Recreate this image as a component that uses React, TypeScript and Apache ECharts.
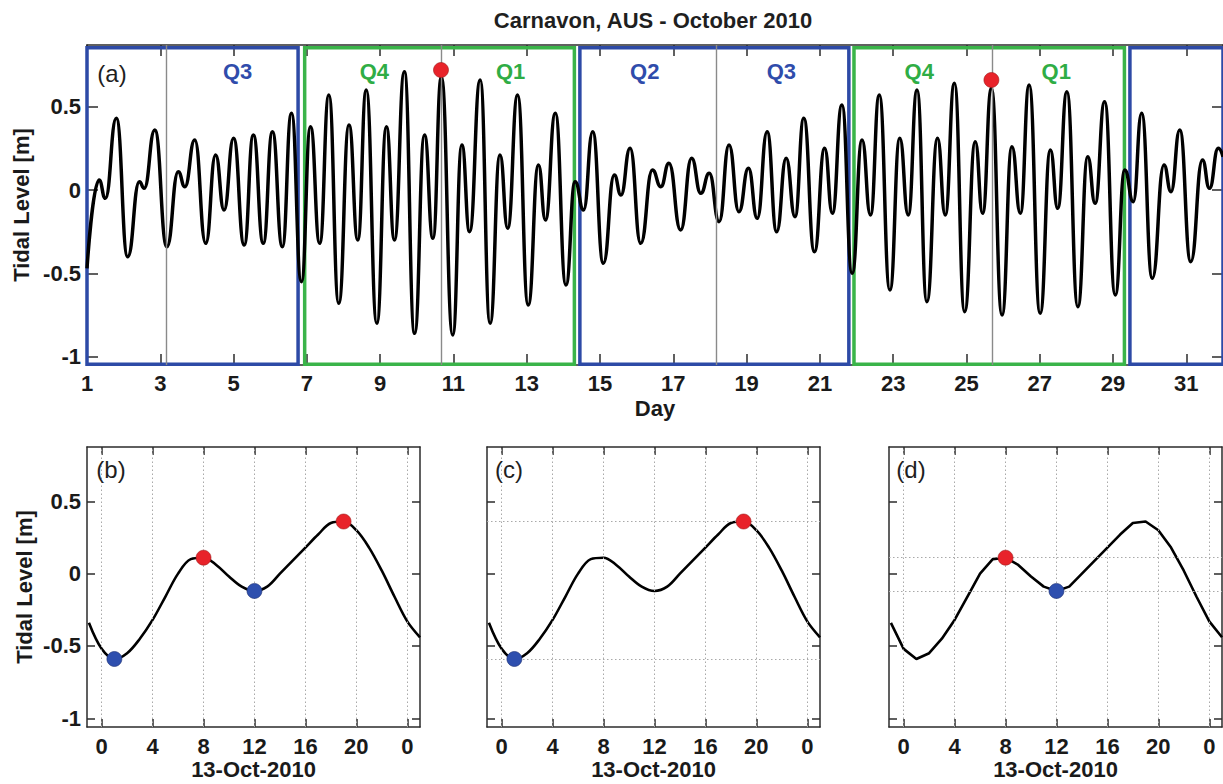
import React, { useEffect, useRef } from "react";
import * as echarts from "echarts";

// ---------------- Data ----------------
// Panel (a): tidal extrema (day of October 2010, metres)
const tideDays = [
  1.0, 1.33, 1.5, 1.8, 2.11, 2.43, 2.56, 2.85, 3.18, 3.49, 3.67, 3.94, 4.24, 4.51, 4.74, 5.0,
  5.29, 5.54, 5.81, 6.06, 6.33, 6.58, 6.85, 7.1, 7.35, 7.6, 7.87, 8.15, 8.39, 8.62, 8.91, 9.17,
  9.39, 9.66, 9.94, 10.21, 10.44, 10.67, 10.98, 11.23, 11.44, 11.73, 12.0, 12.27, 12.48, 12.75,
  13.04, 13.32, 13.51, 13.78, 14.07, 14.32, 14.55, 14.8, 15.09, 15.39, 15.57, 15.82, 16.11,
  16.43, 16.66, 16.88, 17.2, 17.5, 17.75, 17.98, 18.25, 18.52, 18.79, 19.05, 19.29, 19.56,
  19.82, 20.08, 20.32, 20.56, 20.85, 21.13, 21.34, 21.6, 21.88, 22.15, 22.38, 22.62, 22.91,
  23.18, 23.41, 23.65, 23.92, 24.21, 24.42, 24.67, 24.95, 25.24, 25.44, 25.68, 25.97, 26.24,
  26.47, 26.71, 27.01, 27.29, 27.49, 27.74, 28.04, 28.31, 28.51, 28.77, 29.06, 29.32, 29.55,
  29.78, 30.07, 30.39, 30.58, 30.82, 31.12, 31.44, 31.63, 31.87, 32.0,
];
const tideLevels = [
  -0.47, 0.06, -0.05, 0.43, -0.4, 0.05, 0.01, 0.36, -0.34, 0.11, 0.02, 0.3, -0.32, 0.21, -0.12, 0.31,
  -0.33, 0.33, -0.32, 0.35, -0.34, 0.46, -0.55, 0.38, -0.32, 0.57, -0.68, 0.39, -0.3, 0.6, -0.8, 0.38,
  -0.3, 0.71, -0.86, 0.33, -0.29, 0.68, -0.87, 0.27, -0.25, 0.66, -0.8, 0.21, -0.23, 0.57,
  -0.69, 0.15, -0.18, 0.46, -0.57, 0.05, -0.12, 0.35, -0.44, 0.09, -0.03, 0.25, -0.32,
  0.12, 0.02, 0.16, -0.24, 0.19, -0.02, 0.1, -0.19, 0.27, -0.13, 0.13, -0.17, 0.35,
  -0.25, 0.19, -0.16, 0.43, -0.37, 0.25, -0.14, 0.51, -0.5, 0.3, -0.15, 0.57, -0.6,
  0.31, -0.15, 0.6, -0.67, 0.31, -0.15, 0.64, -0.73, 0.29, -0.14, 0.61, -0.75, 0.26,
  -0.14, 0.63, -0.74, 0.24, -0.11, 0.59, -0.7, 0.2, -0.08, 0.53, -0.63, 0.12, -0.07,
  0.46, -0.53, 0.15, -0.01, 0.36, -0.43, 0.18, 0.01, 0.25, 0.2,
];

const dayTicks = [1, 3, 5, 7, 9, 11, 13, 15, 17, 19, 21, 23, 25, 27, 29, 31];
const levelTicks = [-1, -0.5, 0, 0.5];

const boxStartDays = [1.0, 6.94, 14.45, 21.93, 29.46];
const boxEndDays = [6.76, 14.3, 21.79, 29.31, 32.0];
const boxKinds = ["blue", "green", "blue", "green", "blue"];

const phaseDays = [3.16, 10.66, 18.18, 25.69];

const quarterNames = ["Q3", "Q4", "Q1", "Q2", "Q3", "Q4", "Q1"];
const quarterDays = [5.11, 8.84, 12.56, 16.22, 19.95, 23.71, 27.45];
const quarterKinds = ["blue", "green", "green", "blue", "blue", "green", "green"];
const quarterLevel = 0.71;

const peakDays = [10.66, 25.68];
const peakLevels = [0.72, 0.66];

// Panels (b)-(d): hourly levels on 13-Oct-2010 (hours from 00:00)
const hours = [-1, 0, 1, 2, 3, 4, 5, 6, 7, 8, 9, 10, 11, 12, 13, 14, 15, 16, 17, 18, 19, 20, 21, 22, 23, 24, 25];
const hourlyLevels = [
  -0.34, -0.52, -0.59, -0.55, -0.45, -0.32, -0.16, 0.0, 0.1, 0.11, 0.06, -0.02, -0.09, -0.12,
  -0.09, 0.0, 0.09, 0.18, 0.27, 0.35, 0.36, 0.3, 0.18, 0.02, -0.16, -0.33, -0.44,
];
const hourTicks = [0, 4, 8, 12, 16, 20, 24];

const panelLetters = ["(b)", "(c)", "(d)"];
const panelHighHours = [[8, 19], [19], [8]];
const panelLowHours = [[1, 12], [1], [12]];
const panelGuideLevels = [false, true, true];
const panelSmooth = [0.35, 0.35, 0];

// ---------------- Styling ----------------
const FONT = '"Liberation Sans", Arial, Helvetica, sans-serif';
const BLUE = "#2d4aa6";
const GREEN = "#3ab449";
const RED = "#e8232a";
const DOT_BLUE = "#2e4fae";
const AXIS = "#2b2b2b";
const kindColor: Record<string, string> = { blue: BLUE, green: GREEN };
const QCOLOR: Record<string, string> = { blue: "#2f4cab", green: "#2fad45" };

const labelFont = { fontFamily: FONT, fontSize: 22, fontWeight: "bold" as const, color: "#1a1a1a" };

const levelAt = (h: number) => hourlyLevels[hours.indexOf(h)];

function buildOption() {
  const grids: any[] = [
    { left: 87, top: 45, width: 1139, height: 320 },
    { left: 87, top: 447, width: 333, height: 280 },
    { left: 487, top: 447, width: 333, height: 280 },
    { left: 889, top: 447, width: 333, height: 280 },
  ];

  const xAxes: any[] = [];
  const yAxes: any[] = [];

  const lineStyle = { color: AXIS, width: 1.5 };

  // top panel axes
  xAxes.push({
    gridIndex: 0, type: "value", min: 1, max: 32, position: "bottom",
    axisLine: { show: true, onZero: false, lineStyle },
    axisTick: { show: true, inside: true, length: 11, customValues: dayTicks, lineStyle },
    axisLabel: { show: true, customValues: dayTicks, margin: 7, ...labelFont },
    splitLine: { show: false },
    name: "Day", nameLocation: "middle", nameGap: 32, nameTextStyle: { ...labelFont },
  });
  xAxes.push({
    gridIndex: 0, type: "value", min: 1, max: 32, position: "top",
    axisLine: { show: true, onZero: false, lineStyle },
    axisTick: { show: true, inside: true, length: 11, customValues: dayTicks, lineStyle },
    axisLabel: { show: false }, splitLine: { show: false },
  });
  yAxes.push({
    gridIndex: 0, type: "value", min: -1.05, max: 0.87, position: "left",
    axisLine: { show: true, onZero: false, lineStyle },
    axisTick: { show: true, inside: true, length: 11, customValues: levelTicks, lineStyle },
    axisLabel: {
      show: true, customValues: levelTicks, margin: 6, ...labelFont,
      formatter: (v: number) => (v === 0 ? "0" : String(v)),
    },
    splitLine: { show: false },
    name: "Tidal Level [m]", nameLocation: "middle", nameGap: 52, nameTextStyle: { ...labelFont },
  });
  yAxes.push({
    gridIndex: 0, type: "value", min: -1.05, max: 0.87, position: "right",
    axisLine: { show: true, onZero: false, lineStyle },
    axisTick: { show: true, inside: true, length: 11, customValues: levelTicks, lineStyle },
    axisLabel: { show: false }, splitLine: { show: false },
  });

  for (let k = 0; k < 3; k++) {
    const g = k + 1;
    xAxes.push({
      gridIndex: g, type: "value", min: -1.15, max: 25, position: "bottom",
      axisLine: { show: true, onZero: false, lineStyle },
      axisTick: { show: true, inside: true, length: 8, customValues: hourTicks, lineStyle },
      axisLabel: {
        show: true, customValues: hourTicks, margin: 8, ...labelFont,
        formatter: (v: number) => String(v % 24),
      },
      splitLine: { show: false },
      name: "13-Oct-2010", nameLocation: "middle", nameGap: 31, nameTextStyle: { ...labelFont },
    });
    xAxes.push({
      gridIndex: g, type: "value", min: -1.15, max: 25, position: "top",
      axisLine: { show: true, onZero: false, lineStyle },
      axisTick: { show: true, inside: true, length: 8, customValues: hourTicks, lineStyle },
      axisLabel: { show: false }, splitLine: { show: false },
    });
    yAxes.push({
      gridIndex: g, type: "value", min: -1.06, max: 0.875, position: "left",
      axisLine: { show: true, onZero: false, lineStyle },
      axisTick: { show: true, inside: true, length: 8, customValues: levelTicks, lineStyle },
      axisLabel: {
        show: k === 0, customValues: levelTicks, margin: 6, ...labelFont,
        formatter: (v: number) => (v === 0 ? "0" : String(v)),
      },
      splitLine: { show: false },
      name: k === 0 ? "Tidal Level [m]" : "", nameLocation: "middle", nameGap: 52,
      nameTextStyle: { ...labelFont },
    });
    yAxes.push({
      gridIndex: g, type: "value", min: -1.06, max: 0.875, position: "right",
      axisLine: { show: true, onZero: false, lineStyle },
      axisTick: { show: true, inside: true, length: 8, customValues: levelTicks, lineStyle },
      axisLabel: { show: false }, splitLine: { show: false },
    });
  }

  const series: any[] = [];

  // phase lines (behind the curve)
  series.push({
    type: "line", xAxisIndex: 0, yAxisIndex: 0, data: [], z: 1, silent: true,
    markLine: {
      silent: true, symbol: ["none", "none"], label: { show: false },
      lineStyle: { color: "#8a8a8a", width: 1.4, type: "solid" },
      data: phaseDays.map((d) => ({ xAxis: d })),
    },
  });
  // tide curve
  series.push({
    type: "line", xAxisIndex: 0, yAxisIndex: 0, z: 3,
    data: tideDays.map((d, i) => [d, tideLevels[i]]),
    smooth: 0.5, smoothMonotone: "x", showSymbol: false, symbol: "none",
    lineStyle: { color: "#000", width: 3.5 }, clip: true,
  });
  // quarter boxes
  series.push({
    type: "line", xAxisIndex: 0, yAxisIndex: 0, data: [], z: 4, silent: true,
    markArea: {
      silent: true,
      data: boxStartDays.map((s, i) => [
        {
          xAxis: s, yAxis: -1.045,
          itemStyle: { color: "rgba(0,0,0,0)", borderColor: kindColor[boxKinds[i]], borderWidth: 3.5 },
        },
        { xAxis: boxEndDays[i], yAxis: 0.853 },
      ]),
    },
  });
  // quarter labels
  series.push({
    type: "scatter", xAxisIndex: 0, yAxisIndex: 0, z: 5, silent: true,
    symbolSize: 1, itemStyle: { color: "rgba(0,0,0,0)", opacity: 1 },
    data: quarterDays.map((d, i) => ({
      value: [d, quarterLevel], name: quarterNames[i],
      label: { color: QCOLOR[quarterKinds[i]] },
    })),
    label: {
      show: true, position: "inside", formatter: "{b}", fontFamily: FONT, fontSize: 22,
      fontWeight: "bold", opacity: 1,
    },
  });
  // spring-tide maxima
  series.push({
    type: "scatter", xAxisIndex: 0, yAxisIndex: 0, z: 6, symbolSize: 15,
    itemStyle: { color: RED, borderColor: "#9e1a1a", borderWidth: 0.6, opacity: 1 },
    data: peakDays.map((d, i) => [d, peakLevels[i]]),
  });

  for (let k = 0; k < 3; k++) {
    const ax = 2 + 2 * k;
    const guides: any[] = hourTicks.map((h) => ({ xAxis: h }));
    if (panelGuideLevels[k]) {
      panelHighHours[k].forEach((h) => guides.push({ yAxis: levelAt(h) }));
      panelLowHours[k].forEach((h) => guides.push({ yAxis: levelAt(h) }));
    }
    series.push({
      type: "line", xAxisIndex: ax, yAxisIndex: ax, data: [], z: 1, silent: true,
      markLine: {
        silent: true, symbol: ["none", "none"], label: { show: false },
        lineStyle: { color: "#a9a9a9", width: 1, type: [1.5, 2.5] },
        data: guides,
      },
    });
    series.push({
      type: "line", xAxisIndex: ax, yAxisIndex: ax, z: 3,
      data: hours.map((h, i) => [h, hourlyLevels[i]]),
      smooth: panelSmooth[k], showSymbol: false, symbol: "none",
      lineStyle: { color: "#000", width: 2.6 }, clip: true,
    });
    series.push({
      type: "scatter", xAxisIndex: ax, yAxisIndex: ax, z: 5, symbolSize: 15,
      itemStyle: { color: RED, borderColor: "#9e1a1a", borderWidth: 0.6, opacity: 1 },
      data: panelHighHours[k].map((h) => [h, levelAt(h)]),
    });
    series.push({
      type: "scatter", xAxisIndex: ax, yAxisIndex: ax, z: 5, symbolSize: 15,
      itemStyle: { color: DOT_BLUE, borderColor: "#1c2f70", borderWidth: 0.6, opacity: 1 },
      data: panelLowHours[k].map((h) => [h, levelAt(h)]),
    });
  }

  const txt = (text: string, x: number, y: number, bold: boolean, size: number) => ({
    type: "text", x, y, silent: true, z: 10,
    style: {
      text, fill: "#1f1f1f",
      font: `${bold ? "bold " : ""}${size}px ${FONT}`,
      align: "center", verticalAlign: "middle",
      textAlign: "center", textVerticalAlign: "middle",
    },
  });

  const graphic: any[] = [
    txt("Carnavon, AUS - October 2010", 653, 20, true, 22),
    txt("(a)", 112, 73, false, 24),
    txt(panelLetters[0], 111, 469, false, 24),
    txt(panelLetters[1], 509, 469, false, 24),
    txt(panelLetters[2], 911, 469, false, 24),
  ];

  return {
    animation: false,
    backgroundColor: "#ffffff",
    textStyle: { fontFamily: FONT },
    grid: grids,
    xAxis: xAxes,
    yAxis: yAxes,
    series,
    graphic,
  };
}

export default function App() {
  const ref = useRef<HTMLDivElement | null>(null);
  useEffect(() => {
    document.body.style.margin = "0";
    if (!ref.current) return;
    const chart = echarts.init(ref.current, undefined, { renderer: "svg" });
    chart.setOption(buildOption() as any);
    return () => chart.dispose();
  }, []);
  return <div ref={ref} style={{ width: 1223, height: 784, background: "#fff" }} />;
}
